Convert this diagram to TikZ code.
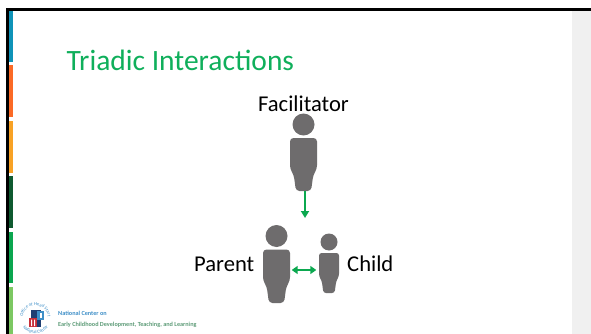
\documentclass[tikz,border=0pt]{standalone}
\usepackage{fontspec}
\setmainfont{Carlito}
\usetikzlibrary{arrows.meta,decorations.text}
\definecolor{titlegreen}{HTML}{0FAF5B}
\definecolor{arrowgreen}{HTML}{0BA84F}
\definecolor{persongray}{HTML}{6E6C6D}
\definecolor{panelgray}{HTML}{F0F0F0}
\definecolor{barblue}{HTML}{0F93B8}
\definecolor{barorange}{HTML}{FB6A26}
\definecolor{baryellow}{HTML}{F8A225}
\definecolor{bardark}{HTML}{0F5A30}
\definecolor{bargreen}{HTML}{0BA64F}
\definecolor{barlight}{HTML}{7CC862}
\definecolor{logoblue}{HTML}{3E8FC8}
\definecolor{logogreen}{HTML}{5E9C78}
\definecolor{logored}{HTML}{C8303A}
\definecolor{logonavy}{HTML}{1F3F73}
\tikzset{
  x=1pt,y=-1pt,
  label text/.style={font=\fontsize{22.6}{24}\selectfont,text=black,inner sep=0pt},
  bodybox/.style={inner sep=0pt,minimum width=#1},
  link/.style={draw=arrowgreen,line width=2pt},
  tip/.style={-{Triangle[length=7pt,width=8pt]}},
  twotip/.style={{Triangle[length=6pt,width=8pt]}-{Triangle[length=6pt,width=8pt]}},
  pics/person/.style args={#1/#2/#3}{code={
    % #1 half width, #2 body height, #3 head radius; origin = top centre of body
    \fill[persongray] (0,-#3-2.5) circle[radius=#3];
    \fill[persongray,rounded corners=#1*0.26pt]
      (-#1,0) -- (#1,0) -- (#1,0.58*#2) -- (0.72*#1,0.70*#2) -- (0.56*#1,#2) --
      (-0.56*#1,#2) -- (-0.72*#1,0.70*#2) -- (-#1,0.58*#2) -- cycle;
  }}
}
\begin{document}
\begin{tikzpicture}
\useasboundingbox (0,0) rectangle (591,334);
\fill[white] (0,0) rectangle (591,334);
% right panel
\fill[panelgray] (572,11) rectangle (591,334);
% colour bars
\fill[barblue] (9,11) rectangle (13,62);
\fill[barorange] (9,65.5) rectangle (13,117);
\fill[baryellow] (9,121) rectangle (13,173);
\fill[bardark] (9,176) rectangle (13,228);
\fill[bargreen] (9,231.5) rectangle (13,283);
\fill[barlight] (9,287) rectangle (13,334);
% frame
\fill[black] (6,8.5) rectangle (591,11);
\fill[black] (6,8.5) rectangle (9,334);
% title
\node[anchor=base west,inner sep=0pt,text=titlegreen,font=\fontsize{29.5}{32}\selectfont] (title) at (66.5,71) {Triadic Interactions};
% people
\pic at (303.5,138) {person={13.5/53/11}};
\pic at (276.5,249.5) {person={13.5/53.5/11}};
\pic at (329,253) {person={10/40/8.5}};
\node[bodybox=27pt,minimum height=53pt] (facilitator) at (305,164.5) {};
\node[bodybox=27pt,minimum height=53.5pt] (parent) at (276.5,276) {};
\node[bodybox=20pt,minimum height=40pt] (child) at (329,273) {};
\coordinate (down) at (305,218);
% labels
\node[label text,anchor=base] (facname) at (303.5,112) {Facilitator};
\node[label text,anchor=base west] (parname) at (194,271) {Parent};
\node[label text,anchor=base west] (chiname) at (347,271) {Child};
% connectors
\draw[link,tip] (facilitator.south) -- (down);
\draw[link,twotip,shorten <=1.5pt,shorten >=2.5pt] ([yshift=6pt]parent.east) -- ([yshift=3pt]child.west);
% logo (the y axis points down, so angles run the other way round)
\path[postaction={decorate,decoration={text along path,text align=center,
   text={|\fontsize{4.6}{5}\selectfont\color{logoblue}|Office of Head Start}}}]
   (23,318) arc[start angle=180,end angle=360,radius=12.5];
\path[postaction={decorate,decoration={text along path,text align=center,
   text={|\fontsize{4.6}{5}\selectfont\color{logoblue}|National Center}}}]
   (20,318) arc[start angle=180,end angle=0,radius=15.5];
\fill[logonavy] (31,310) rectangle (41,327);
\fill[logored] (29,318) rectangle (37,327);
\fill[white] (31,319.5) rectangle (32.2,326) (34,319.5) rectangle (35.2,326);
\fill[logoblue] (37,311) rectangle (44,320);
\fill[white] (39.5,313) rectangle (41.5,318);
\node[anchor=base west,inner sep=0pt,text=logoblue,font=\bfseries\fontsize{6.2}{7}\selectfont] (org) at (58,315) {National Center on};
\node[anchor=base west,inner sep=0pt,text=logogreen,font=\bfseries\fontsize{6.2}{7}\selectfont] (orgname) at (58,326) {Early Childhood Development, Teaching, and Learning};
\end{tikzpicture}
\end{document}
